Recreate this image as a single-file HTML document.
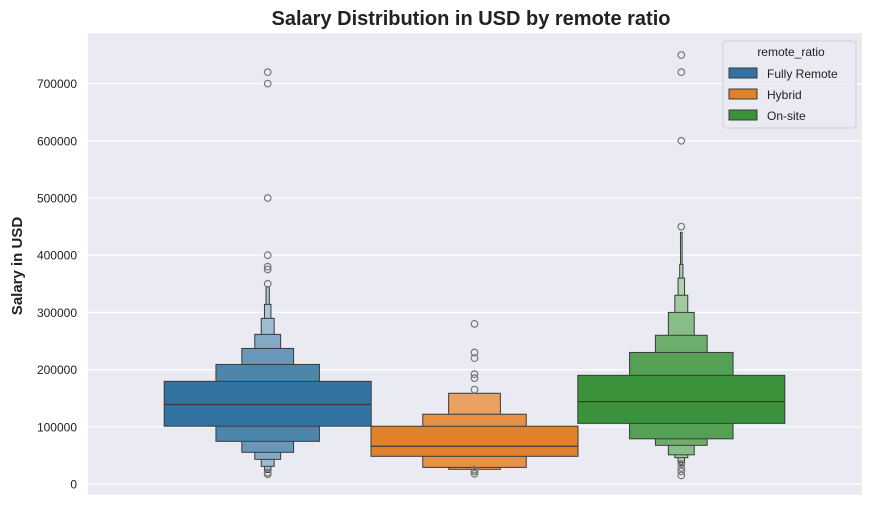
<!DOCTYPE html>
<html><head><meta charset="utf-8"><style>
body{margin:0;background:#fff;font-family:"Liberation Sans",Arial,sans-serif}
svg text{font-family:"Liberation Sans",Arial,sans-serif}
</style></head><body>
<svg id="chart" width="871" height="506">
<text x="471" y="25" text-anchor="middle" font-size="20" font-weight="bold" fill="#222">Salary Distribution in USD by remote ratio</text>
<rect x="88" y="33" width="774" height="462" fill="#eaeaf2"/>
<g id="grid"></g>
<g id="marks"></g>
<text transform="translate(22,266) rotate(-90)" text-anchor="middle" font-size="15" font-weight="bold" fill="#222">Salary in USD</text>
<g>
<rect x="723" y="41" width="133" height="87" rx="3" fill="#eaeaf2" fill-opacity="0.8" stroke="#d0d0d8"/>
<text x="791" y="56" text-anchor="middle" font-size="12" fill="#222">remote_ratio</text>
<g id="legend"></g>
</g>
</svg>
<script>
const categories=["Fully Remote","Hybrid","On-site"];
const colors=["#3274a1","#e1812c","#3a923a"];
const medians=[139000,66000,144000];
// levels: [low, high] from widest to narrowest
const levelsRemote=[[101000,179500],[74600,209000],[55400,237000],[43100,261600],[30900,289600],[23000,314000],[20000,345000]];
const levelsHybrid=[[48400,101000],[29000,122000],[25700,158600]];
const levelsOnsite=[[106000,190000],[79000,230000],[67600,260000],[51000,300000],[46000,330000],[38000,360000],[34000,384000],[32000,440000]];
const outliersRemote=[720000,700000,500000,400000,380000,375000,350000,17000,20000];
const outliersHybrid=[280000,230000,220000,192000,185000,165000,18000,22000,25000];
const outliersOnsite=[750000,720000,600000,450000,35000,28000,22000,15000];
const yTicks=[0,100000,200000,300000,400000,500000,600000,700000];
const allLevels=[levelsRemote,levelsHybrid,levelsOnsite];
const allOutliers=[outliersRemote,outliersHybrid,outliersOnsite];

const NS="http://www.w3.org/2000/svg";
function y(v){return 484-v/100000*57.2;}
function xc(i){return 267.7+i*206.8;}
const boxW=207;
function mk(tag,attrs,parent){const e=document.createElementNS(NS,tag);for(const k in attrs)e.setAttribute(k,attrs[k]);parent.appendChild(e);return e;}
function mix(hex,f){const n=parseInt(hex.slice(1),16);const r=n>>16,g=(n>>8)&255,b=n&255;const m=c=>Math.round(c+(255-c)*f);return `rgb(${m(r)},${m(g)},${m(b)})`;}
const grid=document.getElementById('grid');
yTicks.forEach(t=>{
  const l=mk('line',{x1:88,x2:862,y1:y(t),y2:y(t),stroke:'#fff','stroke-width':1.2},grid);
  
  
  const tx=mk('text',{x:77,y:y(t)+4.5,'text-anchor':'end','font-size':12,fill:'#222'},grid);
  tx.textContent=String(t);
  
  
});
const marks=document.getElementById('marks');
allLevels.forEach((lv,i)=>{
  const cx=xc(i);
  for(let k=lv.length-1;k>=0;k--){
    const w=boxW/Math.pow(2,k);
    const r=mk('rect',{x:cx-w/2,y:y(lv[k][1]),width:w,height:y(lv[k][0])-y(lv[k][1]),fill:mix(colors[i],Math.min(0.6,k*0.13)),stroke:'#3a3a3a','stroke-width':1},marks);
    
    
  }
  const m=mk('line',{x1:cx-boxW/2,x2:cx+boxW/2,y1:y(medians[i]),y2:y(medians[i]),stroke:'#3a3a3a','stroke-width':1.2},marks);
  
  
  allOutliers[i].forEach(o=>{
    const c=mk('circle',{cx:cx,cy:y(o),r:3.3,fill:'none',stroke:'#777','stroke-width':1.2},marks);
    
    
  });
});
const lg=document.getElementById('legend');
categories.forEach((c,i)=>{
  const yy=68+i*21;
  const r=mk('rect',{x:729,y:yy,width:28,height:10,fill:colors[i],stroke:'#3a3a3a','stroke-width':1},lg);
  
  
  const t=mk('text',{x:767,y:yy+10,'font-size':12,fill:'#222'},lg);
  t.textContent=c;
  
  
});
</script>
</body></html>
